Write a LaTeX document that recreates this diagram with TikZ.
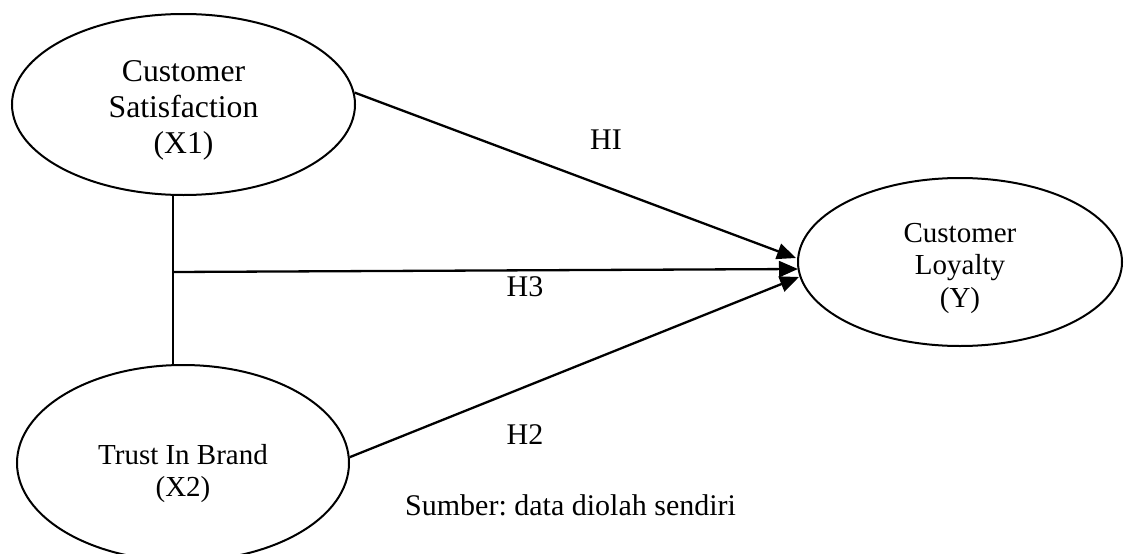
\documentclass[tikz,border=0pt]{standalone}
\usepackage{fontspec}
\setmainfont{Liberation Serif}
\usetikzlibrary{arrows.meta,shapes.geometric,calc}
\frenchspacing
\tikzset{
  var/.style={draw, ellipse, line width=2pt, inner sep=0pt, align=center},
  conn/.style={line width=2.3pt},
  arr/.style={conn, -{Triangle[length=19pt,width=16pt]}},
  hyp/.style={inner sep=0pt, font=\fontsize{30}{34}\selectfont},
}
\newcommand{\lowered}[2]{\raisebox{-#1}[\height][\depth]{\begin{tabular}{@{}c@{}}#2\end{tabular}}}
\begin{document}
\begin{tikzpicture}[x=1pt,y=-1pt]
\useasboundingbox (0,0) rectangle (1130,554);
\clip (0,0) rectangle (1130,554);
\node[var, minimum width=343pt, minimum height=181pt, font=\fontsize{31.7}{36}\selectfont] (X1) at (183.5,104.5)
  {\lowered{6pt}{Customer\\Satisfaction\\(X1)}};
\node[var, minimum width=332pt, minimum height=196pt, font=\fontsize{29}{32}\selectfont] (X2) at (183,463)
  {\lowered{11pt}{Trust In Brand\\(X2)}};
\node[var, minimum width=324pt, minimum height=168pt, font=\fontsize{29}{32.5}\selectfont] (Y) at (960,262)
  {\lowered{6pt}{Customer\\Loyalty\\(Y)}};
\coordinate (h3s) at (173,272);
\coordinate (t1) at (796,258);
\coordinate (t3) at (798,269);
\coordinate (t2) at (799,277);
\draw[conn] (X1.south -| h3s) -- (X2.north -| h3s);
\draw[arr] (X1.4) -- (t1);
\draw[arr] (h3s) -- (t3);
\draw[arr] (X2.2) -- (t2);
\node[hyp] (HI) at (606,140) {HI};
\node[hyp] (H3) at (525,287) {H3};
\node[hyp] (H2) at (525,435) {H2};
\node[hyp, anchor=base west] (src) at (405,515) {Sumber: data diolah sendiri};
\end{tikzpicture}
\end{document}
